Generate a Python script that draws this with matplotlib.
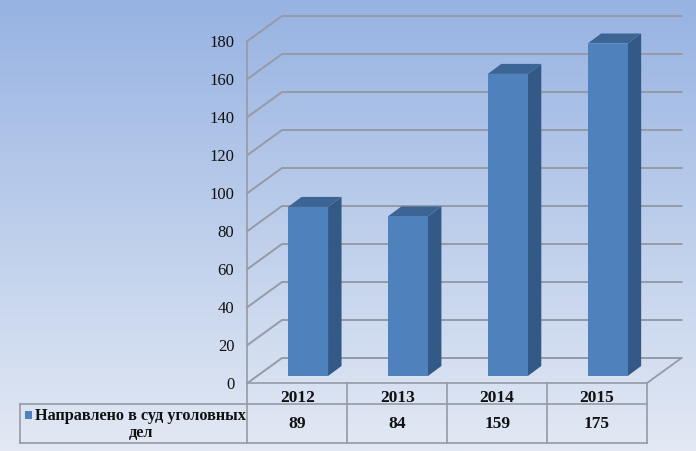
import matplotlib
matplotlib.use("Agg")
import matplotlib.pyplot as plt
import numpy as np
from matplotlib.patches import Polygon, Rectangle

years = ["2012", "2013", "2014", "2015"]
values = [89, 84, 159, 175]
series_line1 = "Направлено в суд уголовных"
series_line2 = "дел"
y_ticks = [0, 20, 40, 60, 80, 100, 120, 140, 160, 180]

W, H = 696, 451
LEFT, RIGHT = 247.5, 647.0   # plot front edge in pixels
FLOOR, TOP = 383.0, 41.0

# pixels -> data units
px_x = 4.0 / (RIGHT - LEFT)
px_y = 180.0 / (FLOOR - TOP)
wall_dx = 34.5 * px_x
wall_dy = 25.0 * px_y
bar_dx = 13.5 * px_x
bar_dy = 10.0 * px_y
bar_w = 40 * px_x
bar_lift = 7.0 * px_y
bar_shift = 10.6 * px_x

GRID = "#959aa6"
FRONT = "#4f81bd"
SIDE = "#335a87"
ROOF = "#3c6595"
INK = "#111111"

plt.rcParams["font.family"] = ["Liberation Serif", "DejaVu Serif"]

fig = plt.figure(figsize=(W / 100, H / 100), dpi=100)

# background gradient
bg = fig.add_axes([0, 0, 1, 1], zorder=0)
grad = np.linspace(0, 1, 256).reshape(-1, 1, 1)
c_top = np.array([0x97, 0xb3, 0xe2]) / 255
c_bot = np.array([0xe3, 0xe9, 0xf4]) / 255
bg.imshow(c_top + (c_bot - c_top) * grad, aspect="auto", extent=[0, 1, 0, 1])
bg.axis("off")

ax = fig.add_axes([LEFT / W, 1 - FLOOR / H, (RIGHT - LEFT) / W, (FLOOR - TOP) / H], zorder=1)
ax.patch.set_alpha(0)
ax.set_xlim(-0.5, 3.5)
ax.set_ylim(0, 180)

for s in ["top", "right"]:
    ax.spines[s].set_visible(False)
for s in ["left", "bottom"]:
    ax.spines[s].set_color(GRID)
    ax.spines[s].set_linewidth(1.2)

ax.set_yticks(y_ticks)
ax.tick_params(axis="y", length=0, pad=9.5, labelsize=12, colors=INK)
ax.set_xticks(range(4))
ax.set_xticklabels(years, fontweight="bold", fontsize=12.5)
ax.tick_params(axis="x", length=0, pad=5, colors=INK)

# back wall grid lines and left wall diagonals
for t in y_ticks:
    ax.plot([-0.5, -0.5 + wall_dx, 3.5 + wall_dx], [t, t + wall_dy, t + wall_dy],
            color=GRID, lw=1.4, clip_on=False, zorder=1, solid_joinstyle="miter")
# floor right edge
ax.plot([3.5, 3.5 + wall_dx], [0, wall_dy], color=GRID, lw=1.3, clip_on=False, zorder=1)

# bars
for i, v in enumerate(values):
    x0 = i + bar_shift - bar_w / 2
    x1 = x0 + bar_w
    y0 = bar_lift
    y1 = bar_lift + v
    ax.add_patch(Polygon([(x1, y0), (x1 + bar_dx, y0 + bar_dy), (x1 + bar_dx, y1 + bar_dy), (x1, y1)],
                         fc=SIDE, ec="none", clip_on=False, zorder=3))
    ax.add_patch(Polygon([(x0, y1), (x1, y1), (x1 + bar_dx, y1 + bar_dy), (x0 + bar_dx, y1 + bar_dy)],
                         fc=ROOF, ec="none", clip_on=False, zorder=3))
    ax.add_patch(Rectangle((x0, y0), bar_w, v, fc=FRONT, ec="none", clip_on=False, zorder=4))

# data table below the plot
row1 = FLOOR + 21
row2 = FLOOR + 60
tx = lambda px: px_x * (px - LEFT) - 0.5
ty = lambda px: (FLOOR - px) * px_y
tbl = dict(color=GRID, lw=1.2, clip_on=False, zorder=2)
for k in range(5):
    ax.plot([tx(LEFT + k * 99.875)] * 2, [ty(FLOOR), ty(row2)], **tbl)
ax.plot([tx(20), tx(RIGHT)], [ty(row1), ty(row1)], **tbl)
ax.plot([tx(20), tx(RIGHT)], [ty(row2), ty(row2)], **tbl)
ax.plot([tx(20), tx(20)], [ty(row1), ty(row2)], **tbl)

for i, v in enumerate(values):
    ax.text(i, ty(423.5), str(v), ha="center", va="center", fontsize=12.5,
            fontweight="bold", color=INK, clip_on=False)

ax.add_patch(Rectangle((tx(24.5), ty(418.5)), 7.5 * px_x, 7.5 * px_y, fc=FRONT, ec="none", clip_on=False))
ax.text(tx(35), ty(415.5), series_line1, ha="left", va="center", fontsize=11.7,
        fontweight="bold", color=INK, clip_on=False)
ax.text(tx(141), ty(432.5), series_line2, ha="center", va="center", fontsize=11.7,
        fontweight="bold", color=INK, clip_on=False)

fig.savefig("out.png", dpi=100)
